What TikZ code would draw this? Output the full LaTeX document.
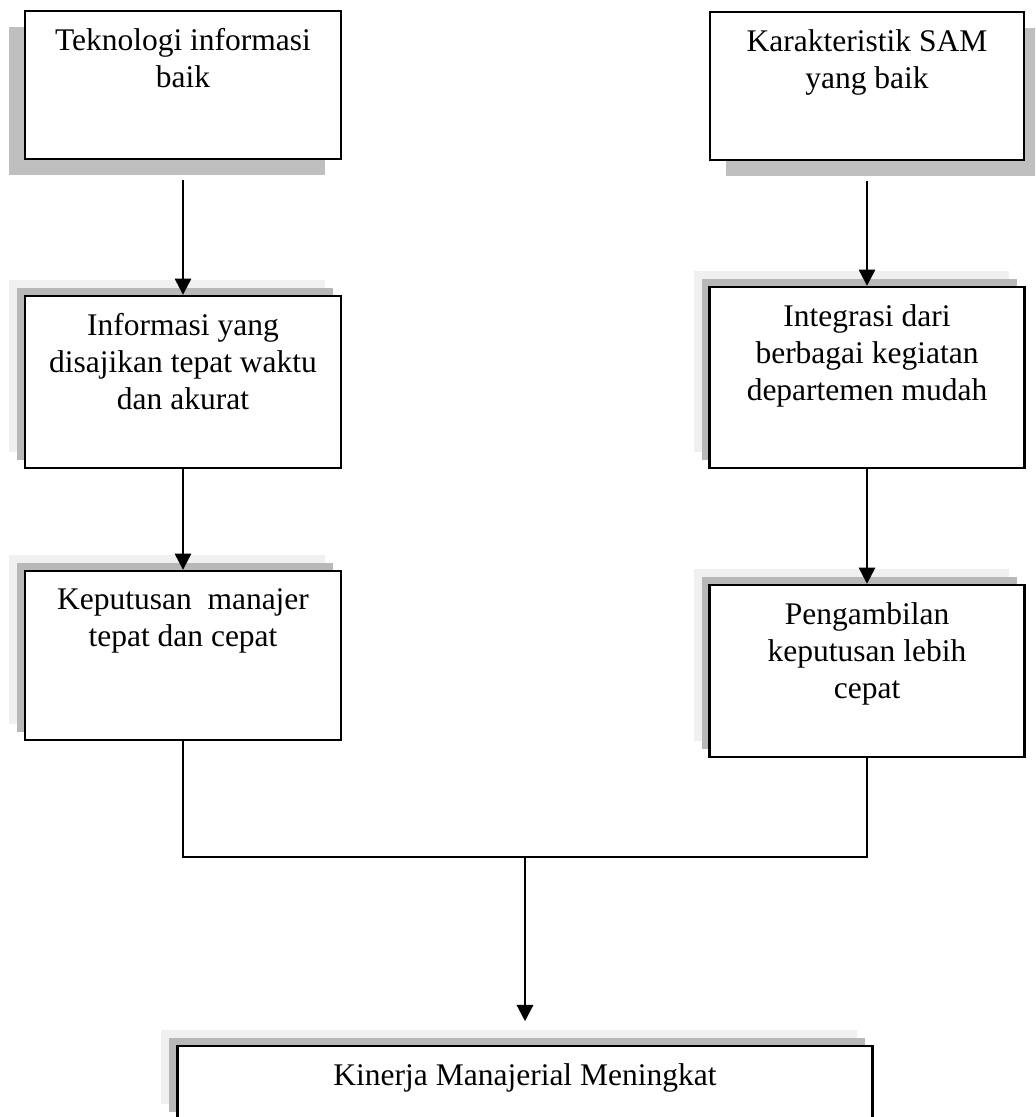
\documentclass[tikz,border=0pt]{standalone}
\usepackage{fontspec}
\setmainfont{Liberation Serif}
\usetikzlibrary{positioning, arrows.meta}
\usetikzlibrary{shadows}
\tikzset{
    ukuran/.style 2 args={minimum width=#1*0.381pt, minimum height=#2*0.381pt},
    kotak/.style={draw, line width=0.9pt, fill=white, inner sep=0pt},
    bayang kiri/.style={kotak, general shadow={fill=black!25, shadow xshift=-6.1pt, shadow yshift=-6.1pt}},
    bayang kanan/.style={kotak, general shadow={fill=black!25, shadow xshift=6.1pt, shadow yshift=-6.1pt}},
    bayang ganda/.style={kotak,
      general shadow={fill=black!6, shadow xshift=-6.1pt, shadow yshift=6.1pt},
      general shadow={fill=black!28, shadow xshift=-3.05pt, shadow yshift=3.05pt}},
    teks/.style={align=center, inner sep=0pt, font=\fontsize{12}{14}\selectfont},
    panah/.style={line width=0.9pt, -{Triangle[width=6.2pt,length=6.2pt]}},
    garis/.style={line width=0.9pt},
  }

\begin{document}
\begin{tikzpicture}[x=0.381pt, y=-0.381pt]
	\clip (0,0) rectangle (1035,1117);

	% kolom kiri
	\node[bayang kiri, ukuran={316}{148}] (tek) at (183,85) {};
	\node[teks, below=7pt of tek.north] (tektxt) {Teknologi informasi\\baik};
	\node[bayang ganda, ukuran={316}{172}] (info) at (183,382) {};
	\node[teks, below=7pt of info.north] (infotxt) {Informasi yang\\disajikan tepat waktu\\dan akurat};
	\node[bayang ganda, ukuran={316}{169}] (kep) at (183,655.5) {};
	\node[teks, below=7pt of kep.north] (keptxt) {Keputusan~ manajer\\tepat dan cepat};

	% kolom kanan
	\node[bayang kanan, ukuran={314}{148}] (kar) at (867,86) {};
	\node[teks, below=7pt of kar.north] (kartxt) {Karakteristik SAM\\yang baik};
	\node[bayang ganda, ukuran={315}{181}] (integ) at (867,377.5) {};
	\node[teks, below=7pt of integ.north] (integtxt) {Integrasi dari\\berbagai kegiatan\\departemen mudah};
	\node[bayang ganda, ukuran={315}{172}] (ambil) at (867,671) {};
	\node[teks, below=7pt of ambil.north] (ambiltxt) {Pengambilan\\keputusan lebih\\cepat};

	% hasil
	\node[bayang ganda, ukuran={695}{74}] (kin) at (525,1083) {};
	\node[teks, below=7pt of kin.north] (kintxt) {Kinerja Manajerial Meningkat};
	\coordinate (gabung) at (525,857);

	\draw[panah, shorten <=7.5pt] (tek.south) -- (info.north);
	\draw[panah] (info.south) -- (kep.north);
	\draw[panah, shorten <=7.5pt] (kar.south) -- (integ.north);
	\draw[panah] (integ.south) -- (ambil.north);
	\draw[garis] (kep.south) |- (gabung) -| (ambil.south);
	\draw[panah, shorten >=9pt] (gabung) -- (kin.north);
\end{tikzpicture}
\end{document}
